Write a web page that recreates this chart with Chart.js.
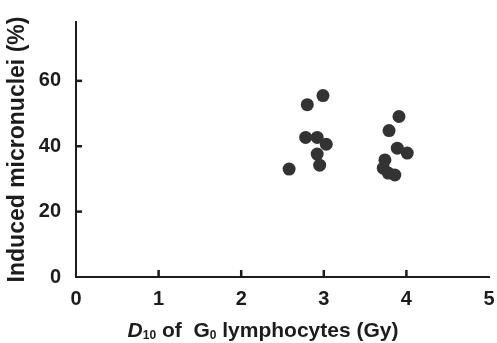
<!DOCTYPE html>
<html>
<head>
<meta charset="utf-8">
<script src="https://cdn.jsdelivr.net/npm/chart.js@4"></script>
<style>
  html, body { margin: 0; padding: 0; background: #fff; }
  #wrap { width: 497px; height: 343px; }
</style>
</head>
<body>
<div id="wrap"><canvas id="mnChart" width="497" height="343"></canvas></div>
<script>
// D10 of G0 lymphocytes (Gy) vs induced micronuclei (%)
const d10Values = [2.99, 2.80, 2.78, 2.92, 3.03, 2.92, 2.95, 2.58,
                   3.91, 3.79, 3.89, 4.01, 3.74, 3.72, 3.78, 3.86];
const micronuclei = [55.5, 52.7, 42.7, 42.7, 40.6, 37.6, 34.2, 33.0,
                     49.1, 44.8, 39.4, 37.9, 35.8, 33.3, 31.8, 31.2];
const xTicks = [0, 1, 2, 3, 4, 5];
const yTicks = [0, 20, 40, 60];
const yTitle = 'Induced micronuclei (%)';

const ink = '#1c1c1c';
const tickFont = { family: 'Liberation Sans', size: 20, weight: 'bold' };

// tick marks pointing into the plot, like the original figure
const innerTicks = {
  id: 'innerTicks',
  afterDraw(c) {
    const ctx = c.ctx, x = c.scales.x, y = c.scales.y;
    const area = c.chartArea;
    ctx.save();
    ctx.strokeStyle = ink;
    ctx.lineWidth = 2.5;
    xTicks.slice(1, -1).forEach(v => {
      const px = x.getPixelForValue(v);
      ctx.beginPath(); ctx.moveTo(px, area.bottom); ctx.lineTo(px, area.bottom - 7); ctx.stroke();
    });
    yTicks.slice(1).forEach(v => {
      const py = y.getPixelForValue(v);
      ctx.beginPath(); ctx.moveTo(area.left, py); ctx.lineTo(area.left + 6, py); ctx.stroke();
    });
    ctx.restore();
  }
};

// x title with italic D and subscripts
const xTitle = {
  id: 'xTitle',
  afterDraw(c) {
    const ctx = c.ctx;
    const parts = [
      { t: 'D', f: 'italic bold 21px "Liberation Sans"', dy: 0 },
      { t: '10', f: 'bold 12px "Liberation Sans"', dy: 2 },
      { t: ' of  G', f: 'bold 21px "Liberation Sans"', dy: 0 },
      { t: '0', f: 'bold 12px "Liberation Sans"', dy: 2 },
      { t: ' lymphocytes (Gy)', f: 'bold 21px "Liberation Sans"', dy: 0 }
    ];
    ctx.save();
    ctx.fillStyle = ink;
    ctx.textBaseline = 'alphabetic';
    let w = 0;
    parts.forEach(p => { ctx.font = p.f; w += ctx.measureText(p.t).width; });
    let px = 263 - w / 2;
    const base = 337;
    parts.forEach(p => {
      ctx.font = p.f;
      ctx.fillText(p.t, px, base + p.dy);
      px += ctx.measureText(p.t).width;
    });
    ctx.restore();
  }
};

new Chart(document.getElementById('mnChart').getContext('2d'), {
  type: 'scatter',
  data: {
    datasets: [{
      label: 'Micronuclei',
      data: d10Values.map((v, i) => ({ x: v, y: micronuclei[i] })),
      backgroundColor: '#333333',
      borderWidth: 0,
      pointRadius: 6.5,
      pointHoverRadius: 6.5
    }]
  },
  options: {
    responsive: false,
    animation: false,
    events: [],
    layout: { padding: { left: 4, top: 22, right: 8, bottom: 0 } },
    plugins: { legend: { display: false }, tooltip: { enabled: false } },
    scales: {
      x: {
        type: 'linear',
        min: 0, max: 5,
        afterBuildTicks: s => { s.ticks = xTicks.map(v => ({ value: v })); },
        afterFit: s => { s.height = 66; },
        grid: { display: false },
        border: { display: true, color: ink, width: 2 },
        ticks: { color: ink, font: tickFont, padding: 2, maxRotation: 0 }
      },
      y: {
        type: 'linear',
        min: 0, max: 78,
        afterBuildTicks: s => { s.ticks = yTicks.map(v => ({ value: v })); },
        afterFit: s => { s.width = 72; },
        grid: { display: false },
        border: { display: true, color: ink, width: 2 },
        ticks: { color: ink, font: tickFont, padding: 7 },
        title: {
          display: true,
          text: yTitle,
          color: ink,
          font: { family: 'Liberation Sans', size: 23, weight: 'bold' },
          padding: { top: 0, bottom: 3 }
        }
      }
    }
  },
  plugins: [innerTicks, xTitle]
});
</script>
</body>
</html>
